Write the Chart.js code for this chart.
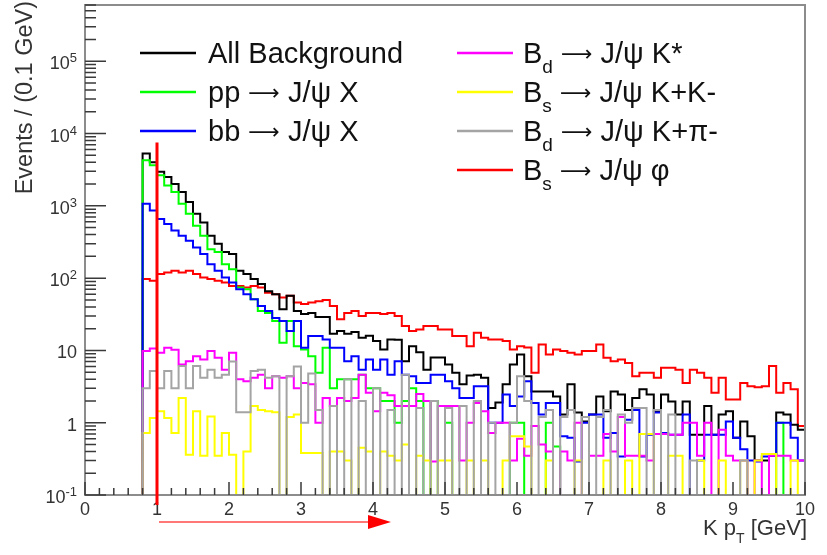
<!DOCTYPE html>
<html>
<head>
<meta charset="utf-8">
<title>K pT</title>
<script src="https://cdn.jsdelivr.net/npm/chart.js@4.4.1/dist/chart.umd.min.js"></script>
<style>
    html, body { margin: 0; padding: 0; background: #ffffff; }
    canvas { display: block; }
</style>
</head>
<body>
<canvas id="kptPlot" width="827" height="555"></canvas>
<script>
// K pT histograms, 0.1 GeV bins from 0.8 to 10 GeV (92 bins)
const binStart = 0.8;
const binWidth = 0.1;

const allBackground = [
    5300, 4000, 2950, 2500, 2000, 1550, 1130, 775, 590, 385,
    300, 230, 215, 126, 114, 97, 83, 66, 60, 37,
    57, 35, 32, 33, 29, 29, 17, 18.5, 17, 18,
    15, 16, 13.5, 10.3, 14.2, 14, 7.1, 11.4, 9.4, 5.4,
    8, 8, 6.4, 4.9, 3.4, 4.5, 4.6, 4.2, 1.6, 1.9,
    3.4, 6.4, 8.8, 4.4, 2.7, 2.7, 2.7, 2.3, 1.3, 3.4,
    1.38, 1.04, 1.3, 2.3, 1.44, 2.7, 2.45, 1.5, 2.2, 2.9,
    2.45, 1.44, 2.45, 1.97, 1.3, 1.97, 0.68, 0.68, 1.7, 0.68,
    1.3, 1.44, 0.62, 1.04, 0.65, 0.3, 0.3, 0.35, 1.38, 1.3,
    0.94, 0.8
];
const ppJpsiX = [
    4270, 3640, 2640, 1910, 1550, 1070, 775, 530, 385, 250,
    230, 156, 133, 74, 70, 51, 35, 33, 25.5, 12.8,
    25.5, 11.4, 10.3, 8.3, 4.9, 10.9, 3.0, 4.0, 4.0, 4.0,
    4.6, 3.0, 3.0, 2.0, 2.0, 1.0, 2.0, 3.0, 2.0, 0,
    2.0, 0, 1.0, 0, 0, 0, 0, 0, 0, 0,
    0, 1.0, 1.0, 0, 0, 0, 1.0, 0.47, 0, 0,
    0, 0, 0, 0, 0, 0, 0, 0, 0, 0,
    0, 0, 0, 0, 0, 0, 0, 0, 0, 0,
    0, 0, 0, 0, 0, 0, 0, 0, 1.0, 0,
    0, 0
];
const bbJpsiX = [
    1070, 860, 660, 560, 455, 385, 330, 265, 215, 156,
    126, 102, 87, 70, 60, 51, 41, 35, 28, 25.5,
    18.5, 25.5, 10.9, 15.8, 15.8, 14.2, 10.9, 10.9, 7.1, 8.3,
    5.4, 7.5, 5.4, 7.5, 4.6, 7.1, 4.6, 4.4, 3.55, 3.55,
    4.6, 4.6, 3.75, 3.0, 2.2, 2.2, 3.2, 3.2, 1.0, 1.0,
    2.45, 1.7, 2.3, 3.75, 1.87, 1.3, 1.87, 1.87, 0.65, 0.62,
    0.29, 1.0, 1.3, 1.3, 0.62, 0.72, 0.34, 1.1, 1.5, 0.34,
    0.68, 1.38, 0.72, 0.68, 0.68, 1.3, 0, 0.3, 0.68, 0.68,
    0.68, 1.04, 0.62, 0.43, 0.3, 0.29, 0.34, 0.35, 1.0, 1.0,
    0.62, 0.3
];
const bdJpsiKstar = [
    9.8, 10.6, 9.3, 10.9, 10.2, 6.4, 7.1, 8.3, 7.5, 9.8,
    7.9, 5.4, 9.3, 4.0, 3.75, 4.2, 4.6, 3.0, 4.4, 4.2,
    4.4, 3.0, 3.55, 3.4, 1.0, 2.2, 1.7, 2.2, 2.0, 2.2,
    4.6, 2.6, 1.44, 2.6, 2.4, 1.7, 1.7, 1.7, 2.5, 2.0,
    0.29, 1.7, 1.7, 1.7, 0.3, 1.0, 1.87, 1.44, 0.72, 1.0,
    1.0, 0.3, 0.6, 0.35, 0.9, 0.5, 0.4, 0, 0.4, 0.3,
    1.0, 0, 0.35, 0.35, 0.7, 0.4, 1.2, 0.35, 0.35, 0.35,
    0.3, 0.7, 0.7, 0.68, 0.68, 1.0, 1.0, 0.35, 1.0, 0,
    0.8, 0.35, 0.3, 0.3, 0, 0.3, 0, 0.35, 0.35, 0.35,
    0.3, 0.3
];
const bsJpsiKK = [
    0.72, 1.16, 1.44, 1.16, 0.72, 2.2, 0.36, 1.44, 0.35, 1.22,
    0.35, 0.72, 0.36, 0, 0.4, 1.7, 1.5, 1.44, 1.4, 0,
    1.2, 1.3, 0.38, 0.38, 0.38, 0, 0.4, 0.4, 0.3, 0,
    0.45, 0.4, 0, 0.4, 0.35, 0.3, 0.5, 0, 0.35, 0.3,
    0, 0.3, 0.3, 0, 0, 0.3, 0, 0.3, 0, 0,
    0.3, 0.65, 0.65, 0.47, 0, 0, 0.3, 0, 0, 0,
    0.3, 0, 0, 0, 0.3, 0, 0, 0.3, 0, 0.7,
    0.7, 0, 0, 0.35, 0.35, 0, 0, 0.3, 0, 0,
    0.3, 0, 0, 0.3, 0, 0.3, 0.37, 0.37, 0, 0,
    0.3, 0
];
const bdJpsiKpi = [
    3.0, 5.2, 3.0, 5.2, 3.0, 6.1, 3.0, 6.1, 4.2, 5.4,
    4.2, 4.6, 7.0, 1.4, 1.4, 5.2, 5.4, 4.2, 4.4, 0,
    4.4, 6.0, 1.0, 4.8, 1.5, 0, 1.7, 0, 4.0, 0,
    2.0, 0, 3.0, 0, 1.5, 0, 4.6, 0, 1.6, 0,
    2.0, 0, 1.6, 0, 1.7, 0, 2.0, 0, 1.0, 0,
    0, 1.0, 4.4, 2.0, 0, 1.2, 1.5, 0, 1.2, 1.5,
    0, 1.2, 0, 1.2, 1.5, 0, 1.3, 1.0, 1.6, 1.6,
    0, 1.5, 0, 1.3, 0, 0, 0.3, 0, 0, 0,
    0, 0, 0, 0.3, 0, 0, 0, 0, 0, 0,
    0, 0
];
const bsJpsiPhi = [
    97, 92, 114, 120, 126, 120, 126, 114, 102, 97,
    92, 87, 78, 78, 74, 78, 74, 63, 60, 54,
    57, 46, 44, 46, 48, 50, 41, 27, 33, 35,
    30, 33, 33, 32, 33, 30, 21.7, 18.5, 19.5, 21.7,
    21.7, 19.5, 19.5, 15.8, 15.8, 11.4, 17.6, 15, 14.2, 14.2,
    13.5, 10.3, 11.4, 11, 4.9, 12.1, 8.8, 10.3, 9.8, 9.3,
    8.8, 9.8, 9.8, 12.1, 7.9, 7.1, 7.5, 6.7, 4.4, 4.9,
    4.9, 4.2, 5.75, 5.75, 5.4, 3.55, 5.4, 4.9, 4.2, 2.6,
    4.2, 2.1, 2.1, 3.55, 3.2, 3.1, 3.2, 6.1, 2.6, 3.55,
    2.9, 0.9
];

const seriesLabels = ['All Background', 'pp ⟶ J/ψ X', 'bb ⟶ J/ψ X',
    'B_d ⟶ J/ψ K*', 'B_s ⟶ J/ψ K+K-', 'B_d ⟶ J/ψ K+π-', 'B_s ⟶ J/ψ φ'];
const seriesColors = ['#000000', '#00ff00', '#0000ff', '#ff00ff', '#ffff00', '#a4a4a4', '#ff0000'];
const seriesValues = [allBackground, ppJpsiX, bbJpsiX, bdJpsiKstar, bsJpsiKK, bdJpsiKpi, bsJpsiPhi];
const drawOrder = [5, 4, 3, 2, 1, 0, 6]; // lower = on top (grey last, red first)

const xTickLabels = ['0', '1', '2', '3', '4', '5', '6', '7', '8', '9', '10'];
const yDecades = [-1, 0, 1, 2, 3, 4, 5];
const yMin = 0.1;
const yMax = 6e5;

const xTitle = 'K p_T [GeV]';
const yTitle = 'Events / (0.1 GeV)';

// red cut marker
const cutValue = 1;
const cutTop = 7500;
const arrowEnd = 4.25;

const fontFamily = '"Liberation Sans", Arial, Helvetica, sans-serif';
const arrowFont = '"DejaVu Sans", sans-serif';

// histogram outline: right bin edges, stepped 'after'; empty bins sit on the floor
function histPoints(values) {
    const pts = [{ x: binStart, y: yMin }];
    values.forEach(function (v, i) {
        pts.push({ x: +(binStart + (i + 1) * binWidth).toFixed(2), y: v > 0 ? v : yMin });
    });
    return pts;
}

// text pieces: "_x" makes x a subscript, the long arrow comes from DejaVu
function richPieces(str, size) {
    const out = [];
    str.split(/_(.)/).forEach(function (p, i) {
        if (i % 2 === 1) {
            out.push({ t: p, font: Math.round(size * 0.65) + 'px ' + fontFamily, dy: size * 0.35 });
            return;
        }
        p.split(/(⟶)/).forEach(function (q) {
            if (!q) return;
            if (q === '⟶') out.push({ t: q, font: Math.round(size * 0.75) + 'px ' + arrowFont, dy: -2 });
            else out.push({ t: q, font: size + 'px ' + fontFamily, dy: 0 });
        });
    });
    return out;
}
function richWidth(ctx, str, size) {
    let w = 0;
    richPieces(str, size).forEach(function (p) {
        ctx.font = p.font;
        w += ctx.measureText(p.t).width;
    });
    return w;
}
function drawRich(ctx, str, x, y, size) {
    ctx.textAlign = 'left';
    richPieces(str, size).forEach(function (p) {
        ctx.font = p.font;
        ctx.fillText(p.t, x, y + p.dy);
        x += ctx.measureText(p.t).width;
    });
}

const rootFrame = {
    id: 'rootFrame',
    afterDraw(chart) {
        const ctx = chart.ctx;
        const area = chart.chartArea;
        const xs = chart.scales.x;
        const ys = chart.scales.y;
        ctx.save();

        // frame
        ctx.strokeStyle = '#8c8c8c';
        ctx.lineWidth = 2;
        ctx.strokeRect(area.left, area.top, area.right - area.left, area.bottom - area.top);

        // ticks, inside the frame
        ctx.strokeStyle = '#3a3a3a';
        ctx.lineWidth = 1.5;
        ctx.beginPath();
        yDecades.forEach(function (e) {
            for (let m = 1; m <= 9; m++) {
                const v = m * Math.pow(10, e);
                if (v > yMax) break;
                const py = ys.getPixelForValue(v);
                ctx.moveTo(area.left, py);
                ctx.lineTo(area.left + (m === 1 ? 21 : 11), py);
            }
        });
        for (let k = 0; k <= 50; k++) {
            const px = xs.getPixelForValue(k * 0.2);
            ctx.moveTo(px, area.bottom);
            ctx.lineTo(px, area.bottom - (k % 5 === 0 ? 13 : 7));
        }
        ctx.stroke();

        // tick labels
        ctx.fillStyle = '#333333';
        ctx.textBaseline = 'alphabetic';
        yDecades.forEach(function (e) {
            const py = ys.getPixelForValue(Math.pow(10, e));
            const base = e === 0 ? '1' : '10';
            const sup = (e === 0 || e === 1) ? '' : String(e);
            ctx.font = '13px ' + fontFamily;
            const supW = sup ? ctx.measureText(sup).width : 0;
            const right = area.left - 8;
            ctx.font = '18px ' + fontFamily;
            ctx.textAlign = 'right';
            ctx.fillText(base, right - supW, py + 8);
            if (sup) {
                ctx.font = '13px ' + fontFamily;
                ctx.textAlign = 'left';
                ctx.fillText(sup, right - supW, py + 1);
            }
        });
        ctx.font = '18px ' + fontFamily;
        ctx.textAlign = 'center';
        xTickLabels.forEach(function (t, i) {
            ctx.fillText(t, xs.getPixelForValue(i), area.bottom + 20);
        });

        // axis titles
        const xtw = richWidth(ctx, xTitle, 22);
        drawRich(ctx, xTitle, area.right + 2 - xtw, area.bottom + 40, 22);
        ctx.save();
        ctx.translate(32, 1);
        ctx.rotate(-Math.PI / 2);
        ctx.font = '23.5px ' + fontFamily;
        ctx.textAlign = 'right';
        ctx.fillText(yTitle, 0, 0);
        ctx.restore();

        // legend: two columns
        const rows = [53, 92, 131, 170];
        ctx.lineWidth = 2.5;
        ctx.fillStyle = '#111111';
        seriesLabels.forEach(function (label, i) {
            const left = i < 3;
            const y = left ? rows[i] : rows[i - 3];
            const x0 = left ? 140 : 457;
            ctx.strokeStyle = seriesColors[i];
            ctx.beginPath();
            ctx.moveTo(x0, y);
            ctx.lineTo(x0 + 56, y);
            ctx.stroke();
            drawRich(ctx, label, x0 + (left ? 68 : 66), y + 10, 29);
        });

        // cut line and arrow
        const cx = xs.getPixelForValue(cutValue);
        ctx.strokeStyle = '#ff0000';
        ctx.lineWidth = 3;
        ctx.beginPath();
        ctx.moveTo(cx, ys.getPixelForValue(cutTop));
        ctx.lineTo(cx, area.bottom + 10);
        ctx.stroke();
        const ay = area.bottom + 27;
        const tip = xs.getPixelForValue(arrowEnd);
        ctx.strokeStyle = '#ff4a4a';
        ctx.lineWidth = 1.5;
        ctx.beginPath();
        ctx.moveTo(cx + 2, ay);
        ctx.lineTo(tip - 20, ay);
        ctx.stroke();
        ctx.fillStyle = '#ff0000';
        ctx.beginPath();
        ctx.moveTo(tip, ay);
        ctx.lineTo(tip - 23, ay - 7);
        ctx.lineTo(tip - 23, ay + 7);
        ctx.closePath();
        ctx.fill();

        ctx.restore();
    }
};

document.addEventListener('DOMContentLoaded', function () {
    const datasets = seriesValues.map(function (vals, i) {
        return {
            label: seriesLabels[i],
            data: histPoints(vals),
            borderColor: seriesColors[i],
            borderWidth: 2,
            stepped: 'after',
            fill: false,
            pointRadius: 0,
            clip: false,
            order: drawOrder[i],
        };
    });

    new Chart(document.getElementById('kptPlot').getContext('2d'), {
        type: 'line',
        data: { datasets: datasets },
        options: {
            responsive: false,
            animation: false,
            events: [],
            layout: { padding: { left: 85, right: 22, top: 5, bottom: 60 } },
            scales: {
                x: { type: 'linear', min: 0, max: 10, display: false },
                y: { type: 'logarithmic', min: yMin, max: yMax, display: false },
            },
            plugins: {
                legend: { display: false },
                tooltip: { enabled: false },
            },
        },
        plugins: [rootFrame],
    });
});
</script>
</body>
</html>
